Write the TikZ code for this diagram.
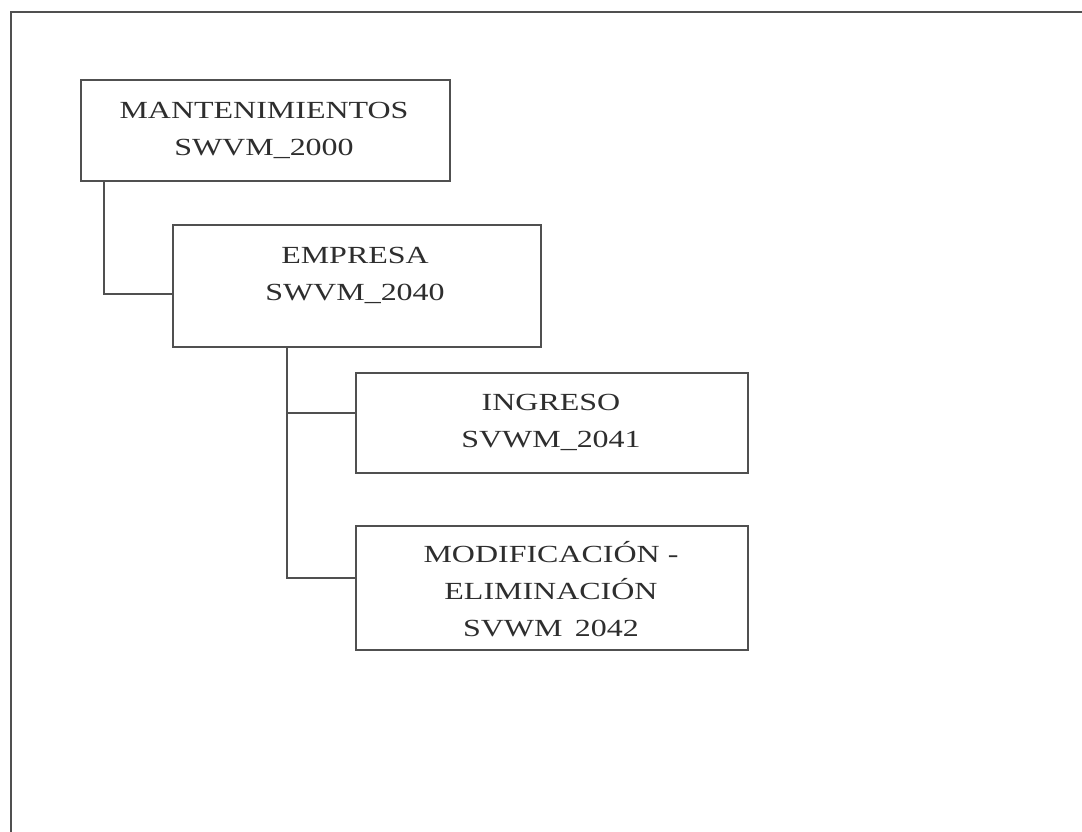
\documentclass[tikz,border=0pt]{standalone}
\usepackage{fontspec}
\setmainfont{Liberation Serif}[FakeStretch=1.3]
\definecolor{linegray}{HTML}{505050}
\definecolor{textgray}{HTML}{2E2E2E}
\begin{document}
\begin{tikzpicture}[x=1pt,y=-1pt,
  boxnode/.style={draw=linegray,line width=1.6pt,inner sep=0pt,anchor=north west},
  label/.style={text=textgray,align=center,inner sep=0pt,font=\fontsize{24.6}{37}\selectfont},
  conn/.style={draw=linegray,line width=1.6pt}]
\useasboundingbox (0,0) rectangle (1082,832);
\fill[white] (0,0) rectangle (1082,832);
% outer frame (left and top edges visible)
\coordinate (fbl) at (11,832);
\coordinate (ftl) at (11,12);
\coordinate (ftr) at (1082,12);
\draw[conn] (fbl) -- (ftl) -- (ftr);
% boxes
\node[boxnode,minimum width=369pt,minimum height=101pt] (m) at (80,79) {};
\node[boxnode,minimum width=368pt,minimum height=122pt] (e) at (172,224) {};
\node[boxnode,minimum width=392pt,minimum height=100pt] (i) at (355,372) {};
\node[boxnode,minimum width=392pt,minimum height=124pt] (mo) at (355,525) {};
% texts
\node[label] (mt) at (264,130.5) {MANTENIMIENTOS\\SWVM\_2000};
\node[label] (et) at (355,275.5) {EMPRESA\\SWVM\_2040};
\node[label] (it) at (551,422) {INGRESO\\SVWM\_2041};
\node[label] (mot) at (551,589) {MODIFICACIÓN -\\ELIMINACIÓN\\SVWM\hspace{0.5em}2042};
% connectors
\coordinate (j1) at (104,294);
\draw[conn] (m.south -| j1) -- (j1) -- (e.west |- j1);
\coordinate (j2) at (287,578);
\coordinate (j3) at (287,413);
\draw[conn] (e.south -| j2) -- (j2) -- (mo.west |- j2);
\draw[conn] (j3) -- (i.west |- j3);
\end{tikzpicture}
\end{document}
